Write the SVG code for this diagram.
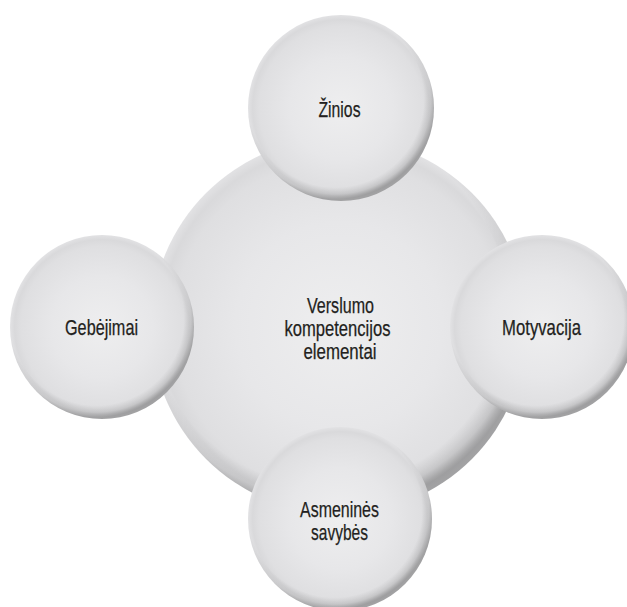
<svg xmlns="http://www.w3.org/2000/svg" width="627" height="607" viewBox="0 0 627 607">
  <defs>
    <!-- soft pillow fill: light centre fading to a grey edge -->
    <radialGradient id="ball" cx="0.5" cy="0.5" r="0.5">
      <stop offset="0" stop-color="#eeeeef"/>
      <stop offset="0.55" stop-color="#e7e7e9"/>
      <stop offset="0.88" stop-color="#dfdfe1"/>
      <stop offset="0.95" stop-color="#d9d9db"/>
      <stop offset="1" stop-color="#e2e2e4"/>
    </radialGradient>
    <!-- rim shading, light from the upper left -->
    <radialGradient id="rim" cx="0.47" cy="0.45" r="0.54">
      <stop offset="0" stop-color="#000" stop-opacity="0"/>
      <stop offset="0.88" stop-color="#000" stop-opacity="0"/>
      <stop offset="0.95" stop-color="#000" stop-opacity="0.1"/>
      <stop offset="1" stop-color="#000" stop-opacity="0.28"/>
    </radialGradient>
  </defs>
  <style>
    .fill { fill: url(#ball); }
    .shade { fill: url(#rim); }
    .label { font-family: "Liberation Sans", Arial, sans-serif; font-size: 22px; fill: #231f20; stroke: #231f20; stroke-width: 0.25px; text-anchor: middle; }
  </style>

  <rect width="627" height="607" fill="#ffffff"/>

  <!-- central element -->
  <g id="node-centre">
    <circle class="fill" cx="339" cy="326" r="188"/>
    <circle class="shade" cx="339" cy="326" r="188"/>
    <text class="label" x="340.5" y="313" textLength="67" lengthAdjust="spacingAndGlyphs">Verslumo</text>
    <text class="label" x="337.5" y="336" textLength="106" lengthAdjust="spacingAndGlyphs">kompetencijos</text>
    <text class="label" x="340" y="359" textLength="73" lengthAdjust="spacingAndGlyphs">elementai</text>
  </g>

  <g id="node-zinios">
    <circle class="fill" cx="341" cy="108" r="93"/>
    <circle class="shade" cx="341" cy="108" r="93"/>
    <text class="label" x="339.5" y="117" textLength="42" lengthAdjust="spacingAndGlyphs">Žinios</text>
  </g>

  <g id="node-gebejimai">
    <circle class="fill" cx="102" cy="327" r="92"/>
    <circle class="shade" cx="102" cy="327" r="92"/>
    <text class="label" x="101.5" y="335" textLength="73" lengthAdjust="spacingAndGlyphs">Gebėjimai</text>
  </g>

  <g id="node-motyvacija">
    <circle class="fill" cx="542" cy="327" r="92"/>
    <circle class="shade" cx="542" cy="327" r="92"/>
    <text class="label" x="541.5" y="335" textLength="79" lengthAdjust="spacingAndGlyphs">Motyvacija</text>
  </g>

  <g id="node-savybes">
    <circle class="fill" cx="340" cy="519" r="92"/>
    <circle class="shade" cx="340" cy="519" r="92"/>
    <text class="label" x="339.5" y="517" textLength="79" lengthAdjust="spacingAndGlyphs">Asmeninės</text>
    <text class="label" x="339.5" y="540" textLength="57" lengthAdjust="spacingAndGlyphs">savybės</text>
  </g>
</svg>
